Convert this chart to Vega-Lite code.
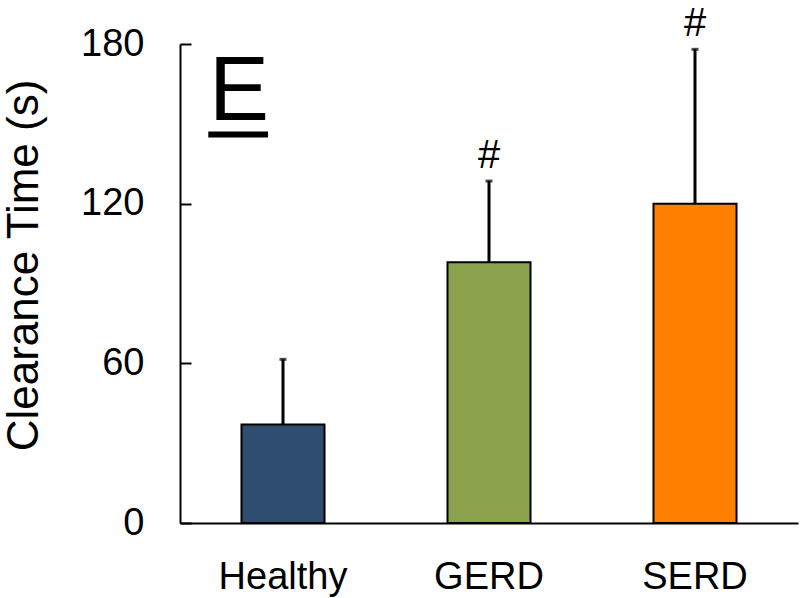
{
  "$schema": "https://vega.github.io/schema/vega-lite/v6.json",
  "width": 618,
  "height": 479,
  "autosize": {"type": "none"},
  "padding": {"left": 180, "top": 44, "right": 2, "bottom": 75},
  "background": "white",
  "config": {"view": {"stroke": null}, "font": "Liberation Sans"},
  "data": {"values": [
    {"group": "Healthy", "mean": 37, "upper": 61.5, "sig": ""},
    {"group": "GERD", "mean": 98, "upper": 128.5, "sig": "#"},
    {"group": "SERD", "mean": 120, "upper": 178, "sig": "#"}
  ]},
  "layer": [
    {
      "mark": {"type": "bar", "stroke": "black", "strokeWidth": 2},
      "encoding": {
        "x": {"field": "group", "type": "nominal", "sort": ["Healthy", "GERD", "SERD"],
          "scale": {"paddingInner": 0.597, "paddingOuter": 0.2985},
          "axis": {"title": null, "domain": true, "domainColor": "black", "domainWidth": 2, "ticks": false,
            "labelFontSize": 38, "labelPadding": 35, "labelAngle": 0, "labelColor": "black"}},
        "y": {"field": "mean", "type": "quantitative",
          "scale": {"domain": [0, 180], "nice": false},
          "axis": {"values": [0, 60, 120, 180], "title": "Clearance Time (s)", "titleFontSize": 44,
            "titleFontWeight": "normal", "titleColor": "black", "grid": false,
            "tickSize": -11, "tickWidth": 2, "tickColor": "black",
            "labelFontSize": 38, "labelPadding": 47, "labelColor": "black",
            "domainWidth": 2, "domainColor": "black",
            "titleX": -143, "titleY": 221, "titleBaseline": "alphabetic", "titleAlign": "center", "titleAngle": 270}},
        "color": {"field": "group", "type": "nominal",
          "scale": {"domain": ["Healthy", "GERD", "SERD"], "range": ["#2F4E6F", "#8AA34C", "#FF7F00"]},
          "legend": null}
      }
    },
    {
      "mark": {"type": "rule", "color": "black", "strokeWidth": 3},
      "encoding": {
        "x": {"field": "group", "type": "nominal", "sort": ["Healthy", "GERD", "SERD"]},
        "y": {"field": "mean", "type": "quantitative"},
        "y2": {"field": "upper"}
      }
    },
    {
      "mark": {"type": "tick", "color": "black", "size": 7, "thickness": 3, "orient": "horizontal"},
      "encoding": {
        "x": {"field": "group", "type": "nominal", "sort": ["Healthy", "GERD", "SERD"]},
        "y": {"field": "upper", "type": "quantitative"}
      }
    },
    {
      "mark": {"type": "text", "fontSize": 40, "baseline": "alphabetic", "dy": -13, "color": "black"},
      "encoding": {
        "x": {"field": "group", "type": "nominal", "sort": ["Healthy", "GERD", "SERD"]},
        "y": {"field": "upper", "type": "quantitative"},
        "text": {"field": "sig"}
      }
    },
    {
      "data": {"values": [{"label": "E"}]},
      "mark": {"type": "text", "fontSize": 90, "baseline": "alphabetic", "align": "center", "color": "black"},
      "encoding": {
        "x": {"datum": "Healthy", "bandPosition": -0.03},
        "y": {"datum": 151.5},
        "text": {"field": "label"}
      }
    },
    {
      "data": {"values": [{"label": "underline"}]},
      "mark": {"type": "rule", "color": "black", "strokeWidth": 6},
      "encoding": {
        "x": {"datum": "Healthy", "bandPosition": -0.4},
        "x2": {"datum": "Healthy", "bandPosition": 0.32},
        "y": {"datum": 146}
      }
    }
  ]
}
